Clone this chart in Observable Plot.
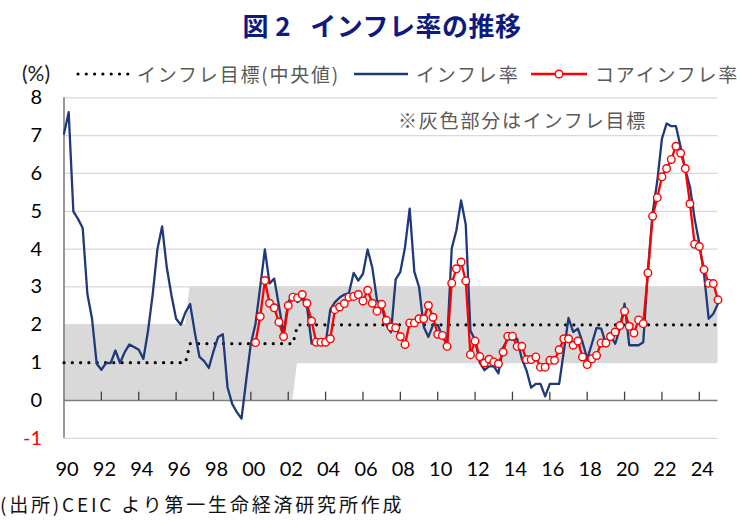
<!DOCTYPE html>
<html>
<head>
<meta charset="utf-8">
<script src="https://cdn.jsdelivr.net/npm/d3@7"></script>
<script src="https://cdn.jsdelivr.net/npm/@observablehq/plot@0.6"></script>
<style>
  html, body { margin: 0; padding: 0; background: #fff; }
  #wrap { position: relative; width: 740px; height: 520px; overflow: hidden; font-family: "Noto Sans CJK JP", "Noto Sans", sans-serif; }
  .abs { position: absolute; white-space: pre; }
  #title { left: 0; width: 764px; top: 11px; text-align: center; font-size: 26px; line-height: 28px; font-weight: bold; color: #0f1a80; letter-spacing: 0.5px; }
  .leg { font-size: 19px; line-height: 20px; color: #595959; letter-spacing: 1.8px; top: 64px; }
  #unit { left: 22px; top: 62px; font-size: 21px; line-height: 22px; color: #1a1a1a; font-family: Lato, "Noto Sans", sans-serif; }
  #note { left: 398px; top: 110px; font-size: 19px; line-height: 20px; color: #595959; letter-spacing: 1.8px; }
  #caption { left: 0px; top: 494px; font-size: 19px; line-height: 20px; color: #111; letter-spacing: 2.8px; }
  #chart { position: absolute; left: 0; top: 85px; }
</style>
</head>
<body>
<div id="wrap">
  <div id="title" class="abs">図 2   インフレ率の推移</div>
  <div id="unit" class="abs">(%)</div>
  <svg class="abs" style="left:74px;top:66px" width="60" height="16"><line x1="4" y1="8" x2="56" y2="8" stroke="#000" stroke-width="3.2" stroke-linecap="round" stroke-dasharray="0 8.3"/></svg>
  <div class="abs leg" style="left:137px">インフレ目標(中央値)</div>
  <svg class="abs" style="left:352px;top:66px" width="58" height="16"><line x1="2" y1="8" x2="56" y2="8" stroke="#1f3a7a" stroke-width="2.4"/></svg>
  <div class="abs leg" style="left:416px">インフレ率</div>
  <svg class="abs" style="left:529px;top:66px" width="60" height="16"><line x1="2" y1="8" x2="58" y2="8" stroke="#ff0000" stroke-width="2.4"/><circle cx="30" cy="8" r="3.8" fill="#fff" stroke="#ff0000" stroke-width="1.4"/></svg>
  <div class="abs leg" style="left:595px">コアインフレ率</div>
  <div id="chart"></div>
  <div id="note" class="abs">※灰色部分はインフレ目標</div>
  <div id="caption" class="abs">(出所)CEIC より第一生命経済研究所作成</div>
</div>
<script>
// Quarterly data, 1990Q1 .. 2025Q1
const startYear = 1990;
const cpi = [
  7.05, 7.62, 5.0, 4.8, 4.56, 2.82, 2.16, 0.97, 0.81, 0.99,
  0.99, 1.32, 0.99, 1.28, 1.48, 1.41, 1.34, 1.1, 1.85, 2.82,
  4.0, 4.6, 3.52, 2.78, 2.16, 2.0, 2.33, 2.55, 1.8, 1.15,
  1.04, 0.86, 1.3, 1.68, 1.75, 0.35, -0.09, -0.31, -0.48, 0.53,
  1.5, 2.03, 3.0, 3.99, 3.09, 3.22, 2.51, 1.76, 2.6, 2.8,
  2.6, 2.7, 2.5, 1.5, 1.5, 1.6, 1.5, 2.4, 2.6, 2.72,
  2.8, 2.84, 3.37, 3.17, 3.35, 3.99, 3.51, 2.65, 2.5, 2.0,
  1.8, 3.2, 3.4, 4.05, 5.07, 3.4, 3.0, 1.95, 1.68, 2.0,
  2.0, 1.7, 1.5, 4.02, 4.5, 5.29, 4.65, 1.85, 1.6, 1.0,
  0.8, 0.9, 0.9, 0.72, 1.4, 1.63, 1.6, 1.63, 1.1, 0.8,
  0.34, 0.44, 0.44, 0.11, 0.44, 0.44, 0.44, 1.3, 2.18, 1.81,
  1.9, 1.54, 1.1, 1.5, 1.92, 1.9, 1.5, 1.7, 1.5, 1.9,
  2.56, 1.46, 1.46, 1.46, 1.54, 3.45, 4.95, 5.8, 6.92, 7.32,
  7.25, 7.25, 6.7, 6.1, 5.65, 4.8, 4.15, 3.35, 2.16, 2.29,
  2.56
];
// Core inflation, 2000Q2 .. 2025Q1
const coreStart = 2000.25;
const core = [
  1.53, 2.22, 3.17, 2.57, 2.45, 2.07, 1.69, 2.51, 2.73, 2.71,
  2.8, 2.57, 2.1, 1.54, 1.54, 1.54, 1.63, 2.4, 2.47, 2.56,
  2.73, 2.75, 2.8, 2.63, 2.91, 2.57, 2.36, 2.54, 2.12, 1.94,
  1.92, 1.69, 1.48, 2.05, 2.05, 2.16, 2.16, 2.51, 2.2, 1.75,
  1.72, 1.43, 3.1, 3.48, 3.66, 3.16, 1.21, 1.57, 1.16, 0.99,
  1.09, 1.02, 0.97, 1.28, 1.7, 1.7, 1.43, 1.43, 1.08, 1.08,
  1.15, 0.88, 0.88, 1.06, 1.06, 1.34, 1.63, 1.63, 1.46, 1.57,
  1.15, 0.95, 1.1, 1.19, 1.52, 1.52, 1.69, 1.81, 1.98, 2.36,
  1.96, 1.78, 2.13, 2.03, 3.37, 4.87, 5.36, 5.91, 6.13, 6.37,
  6.72, 6.54, 6.13, 5.2, 4.13, 4.07, 3.46, 3.1, 3.09, 2.66
];
// Inflation target regimes (start quarter, lower, upper)
const targetFrom = [1990, 1996.75, 2002.5];
const targetLow  = [0, 0, 1];
const targetHigh = [2, 3, 3];
// Axis ticks
const yTicks = [-1, 0, 1, 2, 3, 4, 5, 6, 7, 8];
const xTickYears = [1990, 1992, 1994, 1996, 1998, 2000, 2002, 2004, 2006, 2008, 2010, 2012, 2014, 2016, 2018, 2020, 2022, 2024];
const xTickLabels = ["90","92","94","96","98","00","02","04","06","08","10","12","14","16","18","20","22","24"];

const cpiRows = cpi.map((v, i) => ({t: startYear + i / 4, v}));
const coreRows = core.map((v, i) => ({t: coreStart + i / 4, v}));
const bandRows = cpi.map((_, i) => {
  const t = startYear + i / 4;
  let k = 0;
  targetFrom.forEach((f, j) => { if (t >= f) k = j; });
  return {t, lo: targetLow[k], hi: targetHigh[k], mid: (targetLow[k] + targetHigh[k]) / 2};
});

const chart = Plot.plot({
  width: 740,
  height: 400,
  marginTop: 12.3,
  marginBottom: 47.2,
  marginLeft: 63.5,
  marginRight: 22.5,
  x: {domain: [1990, 2025], axis: null},
  y: {domain: [-1, 8], axis: null},
  style: {fontFamily: "Lato, 'Noto Sans', sans-serif", background: "transparent", overflow: "visible"},
  marks: [
    Plot.ruleY(yTicks, {y: d => d, stroke: "#d9d9d9", strokeWidth: 1.3}),
    Plot.areaY(bandRows, {x: "t", y1: "lo", y2: "hi", fill: "#d9d9d9", curve: "linear"}),
    Plot.ruleY([0], {y: d => d, stroke: "#7f7f7f", strokeWidth: 1.6}),
    Plot.ruleX(xTickYears.slice(1), {x: d => d, y1: 0, y2: 0.22, stroke: "#404040", strokeWidth: 1.3}),
    Plot.ruleX([1990], {x: d => d, y1: -1, y2: 8, stroke: "#7f7f7f", strokeWidth: 1.6}),
    Plot.line(bandRows, {x: "t", y: "mid", stroke: "#000", strokeWidth: 3.2, strokeDasharray: "0 8.3", strokeLinecap: "round"}),
    Plot.line(cpiRows, {x: "t", y: "v", stroke: "#1f3a7a", strokeWidth: 2.3}),
    Plot.line(coreRows, {x: "t", y: "v", stroke: "#ff0000", strokeWidth: 2.3}),
    Plot.dot(coreRows, {x: "t", y: "v", r: 3.8, fill: "#fff", stroke: "#ff0000", strokeWidth: 1.4}),
    Plot.text(yTicks.filter(d => d >= 0), {x: 1990, y: d => d, text: d => String(d), dx: -22, textAnchor: "end", fill: "#000", fontSize: 20}),
    Plot.text(yTicks.filter(d => d < 0), {x: 1990, y: d => d, text: d => String(d), dx: -22, textAnchor: "end", fill: "#ff0000", fontSize: 20}),
    Plot.text(xTickYears, {x: d => d, y: -1, dy: 31, dx: 3, text: (d, i) => xTickLabels[i], fill: "#000", fontSize: 20})
  ]
});
document.getElementById("chart").appendChild(chart);
</script>
</body>
</html>
